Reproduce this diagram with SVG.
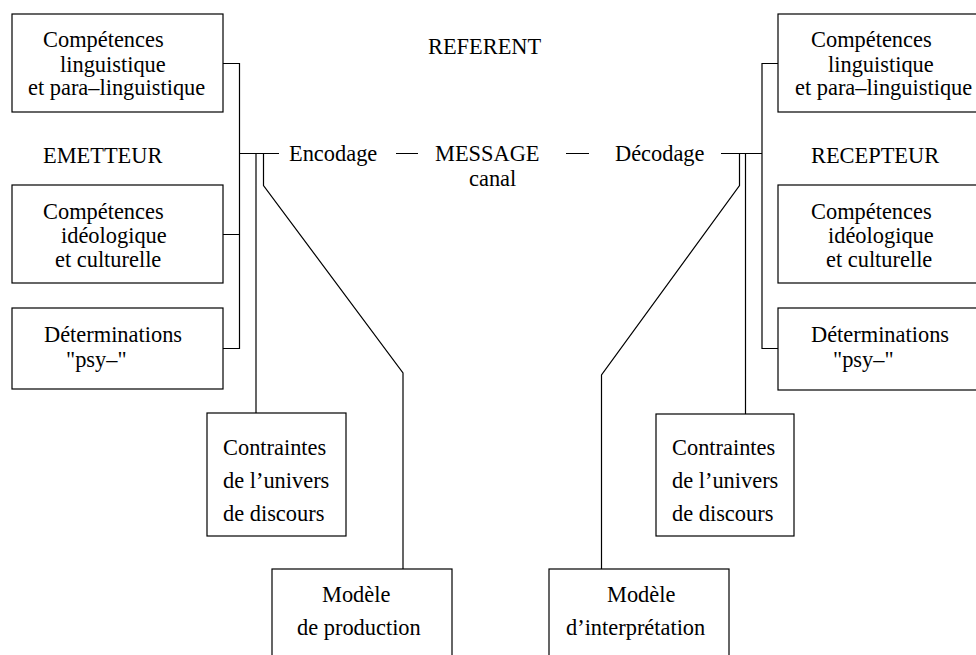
<svg xmlns="http://www.w3.org/2000/svg" width="976" height="655" viewBox="0 0 976 655">
<style>
rect{fill:#fff;stroke:#000;stroke-width:1.2}
.c path{fill:none;stroke:#000;stroke-width:1.2}
text{font-family:"Liberation Serif","Times New Roman",serif;font-size:22.4px;fill:#000}
</style>
<rect x="0" y="0" width="976" height="655" style="stroke:none"/>
<g class="c" id="connectors">
<path d="M223,63.5 H239.5 V348.5 H223 M239.5,234.5 H223 M239.5,153.5 H279 M256,153.5 V413 M263.5,153.5 V185.5 L403,373 V569"/>
<path d="M778,63.5 H762 V348.5 H778 M762,153.5 H721 M745.5,153.5 V414 M739.5,153.5 V185.5 L601.5,375 V569"/>
<path d="M396,153.5 H418 M566,153.5 H589"/>
</g>
<g id="referent"><text x="428" y="54">REFERENT</text></g>
<g id="emetteur"><text x="43" y="163">EMETTEUR</text></g>
<g id="recepteur"><text x="811" y="163">RECEPTEUR</text></g>
<g id="encodage"><text x="289" y="161">Encodage</text></g>
<g id="message"><text x="435" y="161">MESSAGE</text><text x="469" y="186">canal</text></g>
<g id="decodage"><text x="615" y="161">Décodage</text></g>
<g id="l-ling"><rect x="12" y="14" width="211" height="98"/><text x="43" y="47">Compétences</text><text x="60" y="72">linguistique</text><text x="28" y="95">et para–linguistique</text></g>
<g id="l-ideo"><rect x="12" y="185" width="211" height="98"/><text x="43" y="219">Compétences</text><text x="61" y="243">idéologique</text><text x="55" y="267">et culturelle</text></g>
<g id="l-psy"><rect x="12" y="308" width="211" height="81"/><text x="44" y="342">Déterminations</text><text x="66" y="367">"psy–"</text></g>
<g id="l-contr"><rect x="207" y="413" width="139" height="123"/><text x="223" y="455">Contraintes</text><text x="223" y="488">de l’univers</text><text x="223" y="521">de discours</text></g>
<g id="l-modele"><rect x="272" y="569" width="180" height="100"/><text x="322" y="602">Modèle</text><text x="297" y="635">de production</text></g>
<g id="r-ling"><rect x="778" y="14" width="220" height="98"/><text x="811" y="47">Compétences</text><text x="828" y="72">linguistique</text><text x="795" y="95">et para–linguistique</text></g>
<g id="r-ideo"><rect x="778" y="185" width="220" height="98"/><text x="811" y="219">Compétences</text><text x="828" y="243">idéologique</text><text x="826" y="267">et culturelle</text></g>
<g id="r-psy"><rect x="778" y="308" width="220" height="82"/><text x="811" y="342">Déterminations</text><text x="833" y="367">"psy–"</text></g>
<g id="r-contr"><rect x="656" y="414" width="138" height="122"/><text x="672" y="455">Contraintes</text><text x="672" y="488">de l’univers</text><text x="672" y="521">de discours</text></g>
<g id="r-modele"><rect x="549" y="569" width="180" height="100"/><text x="607" y="602">Modèle</text><text x="566" y="635">d’interprétation</text></g>
</svg>
